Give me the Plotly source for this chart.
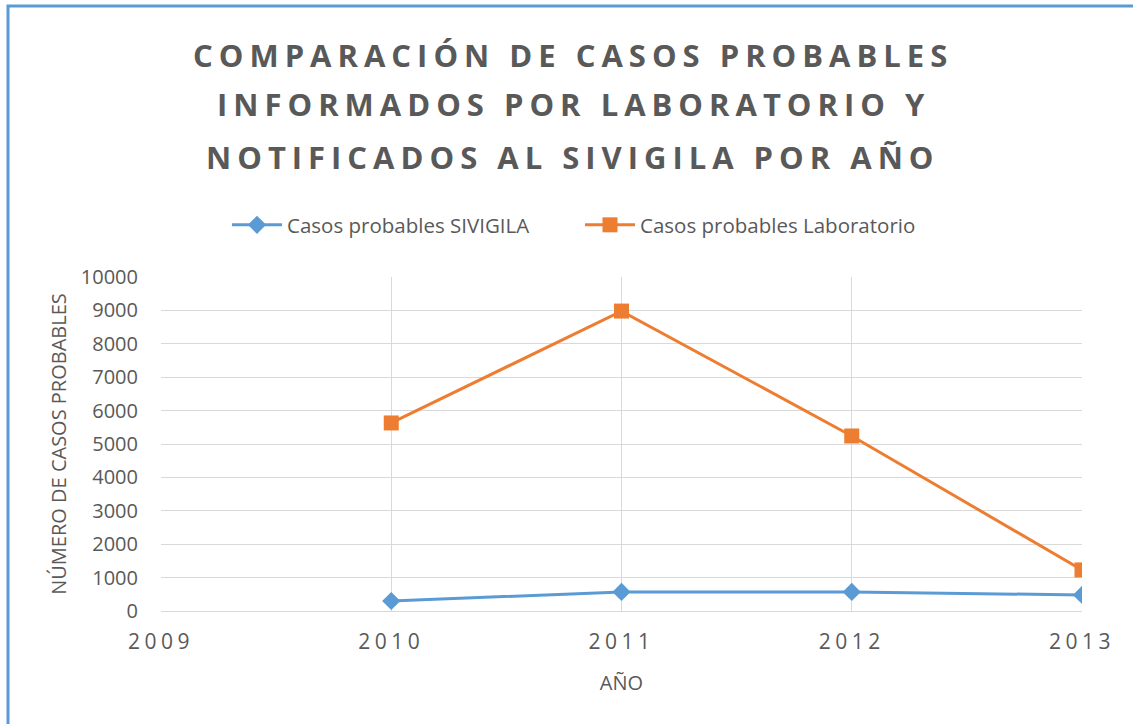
import plotly.graph_objects as go

years = [2010, 2011, 2012, 2013]
sivigila = [300, 570, 570, 480]
laboratorio = [5630, 8980, 5240, 1230]
x_ticks = [2009, 2010, 2011, 2012, 2013]
y_ticks = list(range(0, 10001, 1000))
title_lines = ["COMPARACIÓN DE CASOS PROBABLES",
               "INFORMADOS POR LABORATORIO Y",
               "NOTIFICADOS AL SIVIGILA POR AÑO"]

GRAY = "#595959"
BLUE = "#5B9BD5"
ORANGE = "#ED7D31"
FONT = "Open Sans"

fig = go.Figure()
fig.add_trace(go.Scatter(
    x=years, y=sivigila, name="Casos probables SIVIGILA", mode="lines+markers",
    line=dict(color=BLUE, width=3), marker=dict(symbol="diamond", size=14, color=BLUE)))
fig.add_trace(go.Scatter(
    x=years, y=laboratorio, name="Casos probables Laboratorio", mode="lines+markers",
    line=dict(color=ORANGE, width=3), marker=dict(symbol="square", size=15, color=ORANGE)))

W, H = 1133, 724
L, R, T, B = 161, 1082, 277, 611
ph = B - T
pw = R - L
def py(y):
    return (B - y) / ph
def px(x):
    return (x - L) / pw

annotations = []
for line, yp in zip(title_lines, [55, 104, 157]):
    annotations.append(dict(text=f"<b><span style='letter-spacing:6px'>{line}</span></b>",
                            xref="paper", yref="paper",
                            x=px(573), y=py(yp), xanchor="center", yanchor="middle",
                            showarrow=False, font=dict(family=FONT, size=31, color=GRAY)))

fig.update_layout(
    width=W, height=H,
    margin=dict(l=L, r=W - R, t=T, b=H - B, autoexpand=False),
    paper_bgcolor="white", plot_bgcolor="white",
    font=dict(family=FONT, color=GRAY, size=19),
    showlegend=True,
    legend=dict(orientation="h", x=px(580), y=py(225), xanchor="center", yanchor="middle",
                font=dict(family=FONT, size=20.5, color=GRAY), itemwidth=50,
                entrywidth=288, entrywidthmode="pixels"),
    annotations=annotations,
    xaxis=dict(range=[2009, 2013], tickmode="array", tickvals=x_ticks,
               ticktext=[f"<span style='letter-spacing:4.5px'>{v}</span>" for v in x_ticks],
               showgrid=True, gridcolor="#D9D9D9", gridwidth=1,
               zeroline=False, showline=False, ticks="", ticklabelstandoff=16,
               tickfont=dict(family=FONT, size=21, color=GRAY),
               title=dict(text="AÑO", font=dict(family=FONT, size=20, color=GRAY), standoff=21)),
    yaxis=dict(range=[0, 10000], tickmode="array", tickvals=y_ticks,
               ticktext=[str(v) for v in y_ticks],
               showgrid=True, gridcolor="#D9D9D9", gridwidth=1,
               zeroline=True, zerolinecolor="#D9D9D9", zerolinewidth=1,
               showline=False, ticks="", ticklabelstandoff=22,
               tickfont=dict(family=FONT, size=20, color=GRAY),
               title=dict(text="NÚMERO DE CASOS PROBABLES", font=dict(family=FONT, size=20, color=GRAY), standoff=8)),
    shapes=[dict(type="rect", xref="paper", yref="paper",
                 x0=px(8), x1=2.0, y0=-2.0, y1=py(6),
                 line=dict(color=BLUE, width=3), fillcolor="rgba(0,0,0,0)", layer="above")],
)

fig.write_html("out.html", config={"displayModeBar": False},
               post_script="document.body.style.margin='0';")
